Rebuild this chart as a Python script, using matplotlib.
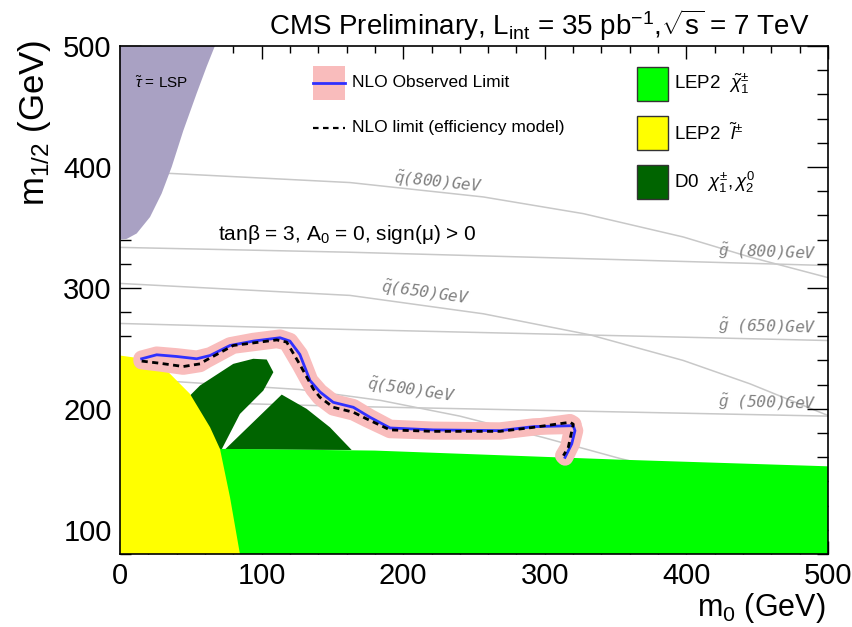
import matplotlib.pyplot as plt
from matplotlib.patches import Rectangle
from matplotlib.lines import Line2D
from matplotlib.ticker import MultipleLocator

plt.rcParams['font.family'] = ['Liberation Sans', 'DejaVu Sans']
plt.rcParams['mathtext.fontset'] = 'custom'
plt.rcParams['mathtext.rm'] = 'Liberation Sans'
plt.rcParams['mathtext.it'] = 'Liberation Sans:italic'
plt.rcParams['mathtext.bf'] = 'Liberation Sans:bold'

# --- excluded regions (m0, m1/2) in GeV ---
stau_m0 = [0, 4.7, 11.8, 21.2, 29.4, 36.5, 44.7, 54.2, 61.2, 67, 70, 0]
stau_m12 = [340, 340.5, 345, 358.6, 378, 400, 430, 461, 483, 500, 510, 510]

slep_m0 = [0, 16.5, 33, 49.4, 63.6, 70.6, 77.7, 84.7, 86, 0]
slep_m12 = [244.1, 241.4, 231.7, 212.4, 184.8, 166.9, 126.8, 79.9, 70, 70]

chi_m0 = [65, 180, 353, 500, 510, 510, 65]
chi_m12 = [167, 165.5, 158, 152.5, 152, 70, 70]

d0a_m0 = [45, 49.4, 56.5, 80, 94.1, 103.6, 108.3, 101.2, 84.7, 71.8, 60]
d0a_m12 = [205, 211, 219.3, 237.2, 241.4, 240.8, 230.3, 215.1, 195.8, 166.5, 166.5]
d0b_m0 = [74.2, 114.2, 131.8, 148.3, 163.6]
d0b_m12 = [166.5, 211.8, 200, 184.7, 166]

# --- NLO observed limit and efficiency-model limit ---
obs_m0 = [15.3, 25.9, 40, 54.2, 63.6, 77.7, 94.1, 113, 120, 127, 134.2, 141.2,
          150.6, 164.8, 176.6, 190.7, 221.3, 268.4, 291.9, 320.1, 321.3, 319, 314.3]
obs_m12 = [241.4, 244.7, 243.3, 241.4, 244.1, 252.4, 256, 258.8, 256, 245, 223.4, 214,
           205.4, 201.3, 193, 184.2, 182.6, 182, 185.3, 186.1, 182, 171, 159.9]
eff_m0 = [15.3, 28.2, 44.7, 56.5, 61.2, 80, 110.7, 117.7, 127.1, 136.5, 141.2,
          150.6, 164.8, 174.2, 190.7, 221.3, 268.4, 291.9, 317.8, 320.1, 316.6, 313.1]
eff_m12 = [239.5, 237.7, 235, 237.2, 240.5, 252.4, 257, 255.2, 236.5, 216.5, 209.6,
           201.3, 197.2, 191.7, 182.6, 181.4, 181.4, 184.7, 188.9, 187.3, 168.2, 161.3]

# --- iso-mass contours ---
q800_m0 = [0, 36.5, 162.4, 256.6, 327.2, 397.8, 444.9, 500]
q800_m12 = [396, 394.6, 387.1, 375.2, 361.4, 342.1, 325.5, 308.5]
g800_m0 = [0, 162, 327, 500]
g800_m12 = [333.5, 329.5, 324.2, 318.5]
q650_m0 = [0, 162.4, 256.6, 331.9, 397.8, 444.9, 500]
q650_m12 = [303.7, 293.8, 278.6, 261.2, 240, 220.7, 194.5]
g650_m0 = [0, 162.4, 500]
g650_m12 = [270.6, 265.6, 256.5]
q500_m0 = [0, 33, 127, 184, 240, 300, 353, 420]
q500_m12 = [226, 223, 216, 207, 194, 176, 159, 140]
g500_m0 = [0, 162, 330, 500]
g500_m12 = [207, 202, 198, 194]

contour_labels = [r"$\tilde{q}$(800)GeV", r"$\tilde{g}$ (800)GeV",
                  r"$\tilde{q}$(650)GeV", r"$\tilde{g}$ (650)GeV",
                  r"$\tilde{q}$(500)GeV", r"$\tilde{g}$ (500)GeV"]
label_m0 = [224.6, 457, 215.4, 457, 205.5, 457]
label_m12 = [387.4, 329.4, 295.4, 267.3, 215, 204.3]
label_rot = [-6, -2, -8, -1.5, -8.5, -1.5]

fig = plt.figure(figsize=(8.53, 6.27), dpi=100)
ax = fig.add_axes([120 / 853, 73 / 627, 708 / 853, 508 / 627])

for xs, ys in [(q800_m0, q800_m12), (g800_m0, g800_m12), (q650_m0, q650_m12),
               (g650_m0, g650_m12), (q500_m0, q500_m12), (g500_m0, g500_m12)]:
    ax.plot(xs, ys, color='#c8c8c8', lw=1.1, zorder=1)

for txt, x, y, r in zip(contour_labels, label_m0, label_m12, label_rot):
    ax.text(x, y, txt, color='#808080', fontsize=11.5, family='DejaVu Sans Mono',
            style='italic', rotation=r, ha='center', va='center',
            rotation_mode='anchor', zorder=2)

ax.fill(stau_m0, stau_m12, color='#a9a1c3', lw=0, zorder=3)
ax.fill(d0a_m0, d0a_m12, color='#006400', lw=0, zorder=3)
ax.fill(d0b_m0, d0b_m12, color='#006400', lw=0, zorder=3)
ax.fill(chi_m0, chi_m12, color='#00ff00', lw=0, zorder=4)
ax.fill(slep_m0, slep_m12, color='#ffff00', lw=0, zorder=5)

# uncertainty band around the limits
band = '#f9bcbc'
ax.plot(obs_m0, obs_m12, color=band, lw=12, solid_capstyle='round',
        solid_joinstyle='round', zorder=6)
ax.plot(eff_m0, eff_m12, color=band, lw=12, solid_capstyle='round',
        solid_joinstyle='round', zorder=6)
ax.plot(obs_m0, obs_m12, color='#3030ff', lw=2, zorder=7)
ax.plot(eff_m0, eff_m12, color='black', lw=2, ls=(0, (2.2, 1.6)), zorder=8)

ax.text(10.6, 465.2, r"$\tilde{\tau}$ = LSP", fontsize=11, zorder=9)
ax.text(69.2, 339.3, r"tanβ = 3, A$_0$ = 0, sign(μ) > 0", fontsize=15, zorder=9)

# legend: limits
T = ax.transAxes
ax.add_patch(Rectangle((0.2726, 0.8937), 0.0452, 0.0669, transform=T,
                       color=band, lw=0, zorder=9))
ax.add_line(Line2D([0.2726, 0.3178], [0.9272, 0.9272], transform=T,
                   color='#3030ff', lw=2, zorder=10))
ax.text(0.3277, 0.9272, "NLO Observed Limit", transform=T, fontsize=12.5,
        va='center', zorder=10)
ax.add_line(Line2D([0.2726, 0.3178], [0.8386, 0.8386], transform=T,
                   color='black', lw=1.6, ls=(0, (2.5, 2)), zorder=10))
ax.text(0.3277, 0.8386, "NLO limit (efficiency model)", transform=T,
        fontsize=12.5, va='center', zorder=10)

# legend: LEP / D0 regions
leg_cols = ['#00ff00', '#ffff00', '#006400']
leg_text = [r"LEP2  $\tilde{\chi}^{\pm}_{1}$", r"LEP2  $\tilde{l}^{\pm}$",
            r"D0  $\chi^{\pm}_{1}, \chi^{0}_{2}$"]
leg_y = [0.8917, 0.7953, 0.6988]
for c, t, y in zip(leg_cols, leg_text, leg_y):
    ax.add_patch(Rectangle((0.7302, y), 0.0438, 0.067, transform=T,
                           facecolor=c, edgecolor='#333333', lw=1, zorder=9))
    ax.text(0.7825, y + 0.0335, t, transform=T, fontsize=13.5, va='center',
            zorder=10)

ax.set_xlim(0, 500)
ax.set_ylim(80, 500)
ax.set_xticks([0, 100, 200, 300, 400, 500])
ax.set_yticks([100, 200, 300, 400, 500])
ax.xaxis.set_minor_locator(MultipleLocator(20))
ax.yaxis.set_minor_locator(MultipleLocator(20))
ax.tick_params(which='both', direction='in', top=True, right=True,
               labelsize=21, width=1)
ax.tick_params(axis='x', which='major', length=9.5, pad=6)
ax.tick_params(axis='x', which='minor', length=5)
ax.tick_params(axis='y', which='major', length=15, pad=6)
ax.tick_params(axis='y', which='minor', length=8)
for s in ax.spines.values():
    s.set_linewidth(1.2)
    s.set_zorder(12)

fig.text(825 / 853, 1 - 616 / 627, r"m$_0$ (GeV)", fontsize=22,
         ha='right', va='baseline')
fig.text(35 / 853, 1 - 40 / 627, r"m$_{1/2}$ (GeV)", fontsize=25,
         rotation=90, ha='center', va='top')
fig.text(810 / 853, 1 - 35 / 627,
         r"CMS Preliminary, L$_{\mathrm{int}}$ = 35 pb$^{-1}$,$\sqrt{\mathrm{s}}$ = 7 TeV",
         fontsize=20, ha='right', va='baseline')

fig.savefig("out.png", dpi=100)
